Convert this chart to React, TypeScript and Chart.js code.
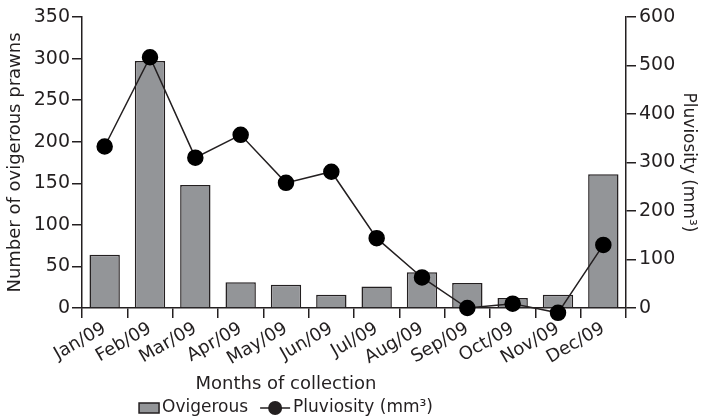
import React, { useEffect, useRef } from "react";
import { Chart, registerables } from "chart.js";

Chart.register(...registerables);

const months = ["Jan/09", "Feb/09", "Mar/09", "Apr/09", "May/09", "Jun/09", "Jul/09", "Aug/09", "Sep/09", "Oct/09", "Nov/09", "Dec/09"];
const ovigerous = [64, 297, 148, 31, 28, 16, 26, 43, 30, 12, 16, 161];
const pluviosity = [333, 517, 310, 357, 258, 281, 144, 63, 0, 9, -10, 130];

const leftTitle = "Number of ovigerous prawns";
const rightTitle = "Pluviosity (mm³)";
const xTitle = "Months of collection";
const legendBar = "Ovigerous";
const legendLine = "Pluviosity (mm³)";

const INK = "#231f20";
const BAR = "#939598";
const FONT = "'DejaVu Sans', sans-serif";

export default function App() {
  const ref = useRef<HTMLCanvasElement | null>(null);

  useEffect(() => {
    if (!ref.current) return;

    const customText = {
      id: "customText",
      afterDraw(chart: any) {
        const { ctx, chartArea } = chart;
        const cx = chartArea.left + (chartArea.right - chartArea.left) * 0.375;
        ctx.save();
        ctx.fillStyle = INK;
        ctx.textBaseline = "middle";
        ctx.font = `18px ${FONT}`;
        ctx.textAlign = "center";
        ctx.fillText(xTitle, cx, chart.height - 34);

        // legend
        ctx.font = `17px ${FONT}`;
        const w1 = ctx.measureText(legendBar).width;
        const w2 = ctx.measureText(legendLine).width;
        const sw = 20, gap1 = 3, gap2 = 12, lw = 30, gap3 = 3;
        const total = sw + gap1 + w1 + gap2 + lw + gap3 + w2;
        let x = cx - total / 2;
        const y = chart.height - 10;
        ctx.fillStyle = BAR;
        ctx.fillRect(x, y - 5, sw, 10);
        ctx.strokeStyle = INK;
        ctx.lineWidth = 1.5;
        ctx.strokeRect(x, y - 5, sw, 10);
        x += sw + gap1;
        ctx.fillStyle = INK;
        ctx.textAlign = "left";
        ctx.fillText(legendBar, x, y);
        x += w1 + gap2;
        ctx.beginPath();
        ctx.moveTo(x, y);
        ctx.lineTo(x + lw, y);
        ctx.stroke();
        ctx.beginPath();
        ctx.arc(x + lw / 2, y, 7, 0, Math.PI * 2);
        ctx.fill();
        x += lw + gap3;
        ctx.fillText(legendLine, x, y);
        ctx.restore();
      },
    };

    const gridOpts = {
      display: true,
      drawOnChartArea: false,
      drawTicks: true,
      tickLength: 10,
      color: INK,
      lineWidth: 1.5,
    };

    const chart = new Chart(ref.current, {
      type: "bar",
      data: {
        labels: months,
        datasets: [
          {
            type: "line",
            label: legendLine,
            data: pluviosity,
            yAxisID: "y1",
            borderColor: INK,
            backgroundColor: INK,
            borderWidth: 1.5,
            pointRadius: 7.5,
            pointBackgroundColor: "#000",
            pointBorderColor: "#000",
            clip: false as any,
            order: 0,
          } as any,
          {
            type: "bar",
            label: legendBar,
            data: ovigerous,
            yAxisID: "y",
            backgroundColor: BAR,
            borderColor: INK,
            borderWidth: 1.5,
            categoryPercentage: 1,
            barPercentage: 0.67,
            order: 1,
          },
        ],
      },
      options: {
        responsive: false,
        animation: false,
        layout: { padding: { top: 17, left: 0, right: 0, bottom: 0 } },
        plugins: { legend: { display: false }, tooltip: { enabled: false } },
        scales: {
          x: {
            offset: true,
            grid: { ...gridOpts, offset: true },
            border: { display: true, color: INK, width: 1.5 },
            ticks: {
              color: INK,
              font: { family: FONT, size: 18 },
              minRotation: 30,
              maxRotation: 30,
              padding: 0,
              autoSkip: false,
            },
            afterFit(scale: any) {
              scale.height = 110;
            },
          },
          y: {
            position: "left",
            min: 0,
            max: 350,
            grid: gridOpts,
            border: { display: true, color: INK, width: 1.5 },
            ticks: { stepSize: 50, color: INK, font: { family: FONT, size: 19 }, padding: 2 },
            title: {
              display: true,
              text: leftTitle,
              color: INK,
              font: { family: FONT, size: 18 },
              padding: { top: 5, bottom: 0 },
            },
            afterFit(scale: any) {
              scale.width = 82;
            },
          },
          y1: {
            position: "right",
            min: 0,
            max: 600,
            grid: gridOpts,
            border: { display: true, color: INK, width: 1.5 },
            ticks: { stepSize: 100, color: INK, font: { family: FONT, size: 19 }, padding: 3 },
            title: {
              display: true,
              text: rightTitle,
              color: INK,
              font: { family: FONT, size: 17 },
              padding: { top: 2, bottom: 0 },
            },
            afterFit(scale: any) {
              scale.width = 75;
            },
          },
        },
      },
      plugins: [customText],
    } as any);

    return () => chart.destroy();
  }, []);

  return (
    <div style={{ position: "absolute", left: 0, top: 0, width: 701, height: 418, background: "#fff" }}>
      <canvas ref={ref} width={701} height={418} />
    </div>
  );
}
